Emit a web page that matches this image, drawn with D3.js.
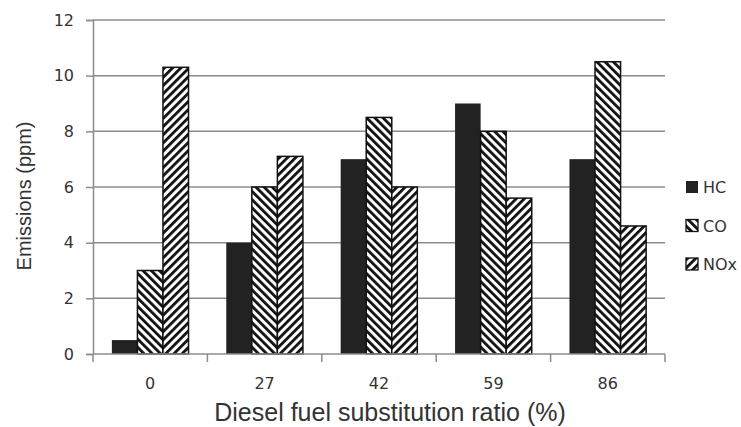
<!DOCTYPE html>
<html>
<head>
<meta charset="utf-8">
<script src="https://cdn.jsdelivr.net/npm/d3@7"></script>
<style>
  body { margin: 0; background: #fff; }
  text { fill: #333; }
</style>
</head>
<body>
<script>
var categories = ["0", "27", "42", "59", "86"];
var seriesNames = ["HC", "CO", "NOx"];
var hcValues = [0.5, 4, 7, 9, 7];
var coValues = [3, 6, 8.5, 8, 10.5];
var noxValues = [10.3, 7.1, 6, 5.6, 4.6];
var yTicks = [0, 2, 4, 6, 8, 10, 12];

var series = [hcValues, coValues, noxValues];

var width = 741, height = 427;
var margin = { top: 20, right: 76, bottom: 73, left: 93 };
var innerW = width - margin.left - margin.right,
    innerH = height - margin.top - margin.bottom;

var svg = d3.select("body").append("svg")
    .attr("width", width)
    .attr("height", height);

var defs = svg.append("defs");

function stripes(id, angle) {
    var p = defs.append("pattern")
        .attr("id", id)
        .attr("patternUnits", "userSpaceOnUse")
        .attr("width", 5.8)
        .attr("height", 5.8)
        .attr("patternTransform", "rotate(" + angle + ")");
    p.append("rect").attr("width", 5.8).attr("height", 5.8).attr("fill", "#fff");
    p.append("rect").attr("width", 2.8).attr("height", 5.8).attr("fill", "#111");
}
stripes("co", -45);
stripes("nox", 45);

var fills = ["#222", "url(#co)", "url(#nox)"];

var g = svg.append("g")
    .attr("transform", "translate(" + margin.left + "," + margin.top + ")");

var x = d3.scaleBand()
    .domain(categories)
    .range([0, innerW])
    .paddingInner(0.33)
    .paddingOuter(0.165);

var xs = d3.scaleBand()
    .domain(d3.range(seriesNames.length))
    .range([0, x.bandwidth()]);

var y = d3.scaleLinear()
    .domain([0, 12])
    .range([innerH, 0]);

// gridlines
g.selectAll(".grid")
    .data(yTicks.slice(1))
    .enter().append("line")
    .attr("x1", 0)
    .attr("x2", innerW)
    .attr("y1", function (d) { return y(d); })
    .attr("y2", function (d) { return y(d); })
    .attr("stroke", "#8c8c8c")
    .attr("stroke-width", 1.5);

// y axis
var yAxis = g.append("g")
    .call(d3.axisLeft(y).tickValues(yTicks).tickSize(7).tickPadding(12));
yAxis.select(".domain").attr("stroke", "#8c8c8c").attr("stroke-width", 1.5);
yAxis.selectAll(".tick line").attr("stroke", "#8c8c8c").attr("stroke-width", 1.5);
yAxis.selectAll(".tick text")
    .attr("font-family", "DejaVu Sans, Verdana, sans-serif")
    .attr("font-size", 16)
    .attr("fill", "#333");

// bars
var groups = g.selectAll(".grp")
    .data(categories)
    .enter().append("g")
    .attr("transform", function (d) { return "translate(" + x(d) + ",0)"; });

groups.selectAll("rect")
    .data(function (d, i) {
        return series.map(function (s, j) { return { j: j, v: s[i] }; });
    })
    .enter().append("rect")
    .attr("x", function (d) { return xs(d.j); })
    .attr("width", xs.bandwidth())
    .attr("y", function (d) { return y(d.v); })
    .attr("height", function (d) { return innerH - y(d.v); })
    .attr("fill", function (d) { return fills[d.j]; })
    .attr("stroke", "#111")
    .attr("stroke-width", function (d) { return d.j === 0 ? 0 : 1.5; });

// x axis
var step = x.step();
var xAxisG = g.append("g").attr("transform", "translate(0," + innerH + ")");
xAxisG.append("line")
    .attr("x1", 0).attr("x2", innerW)
    .attr("stroke", "#8c8c8c").attr("stroke-width", 1.5);
xAxisG.selectAll(".xt")
    .data(d3.range(categories.length + 1))
    .enter().append("line")
    .attr("x1", function (i) { return i * step; })
    .attr("x2", function (i) { return i * step; })
    .attr("y1", 0).attr("y2", 8)
    .attr("stroke", "#8c8c8c").attr("stroke-width", 1.5);
xAxisG.selectAll(".xl")
    .data(categories)
    .enter().append("text")
    .attr("x", function (d) { return x(d) + x.bandwidth() / 2; })
    .attr("y", 35)
    .attr("text-anchor", "middle")
    .attr("font-family", "DejaVu Sans, Verdana, sans-serif")
    .attr("font-size", 16)
    .text(function (d) { return d; });

// axis titles
svg.append("text")
    .attr("x", 390)
    .attr("y", 421)
    .attr("text-anchor", "middle")
    .attr("font-family", "Liberation Sans, Arial, sans-serif")
    .attr("font-size", 25)
    .text("Diesel fuel substitution ratio (%)");

svg.append("text")
    .attr("transform", "translate(31," + (margin.top + innerH / 2 + 9) + ") rotate(-90)")
    .attr("text-anchor", "middle")
    .attr("font-family", "Liberation Sans, Arial, sans-serif")
    .attr("font-size", 20)
    .text("Emissions (ppm)");

// legend
var legend = svg.selectAll(".leg")
    .data(seriesNames)
    .enter().append("g")
    .attr("transform", function (d, i) { return "translate(686," + (181 + i * 38.5) + ")"; });
legend.append("rect")
    .attr("width", 12).attr("height", 12)
    .attr("fill", function (d, i) { return fills[i]; })
    .attr("stroke", "#111")
    .attr("stroke-width", function (d, i) { return i === 0 ? 0 : 1.3; });
legend.append("text")
    .attr("x", 17)
    .attr("y", 12)
    .attr("font-family", "DejaVu Sans, Verdana, sans-serif")
    .attr("font-size", 16)
    .text(function (d) { return d; });
</script>
</body>
</html>
